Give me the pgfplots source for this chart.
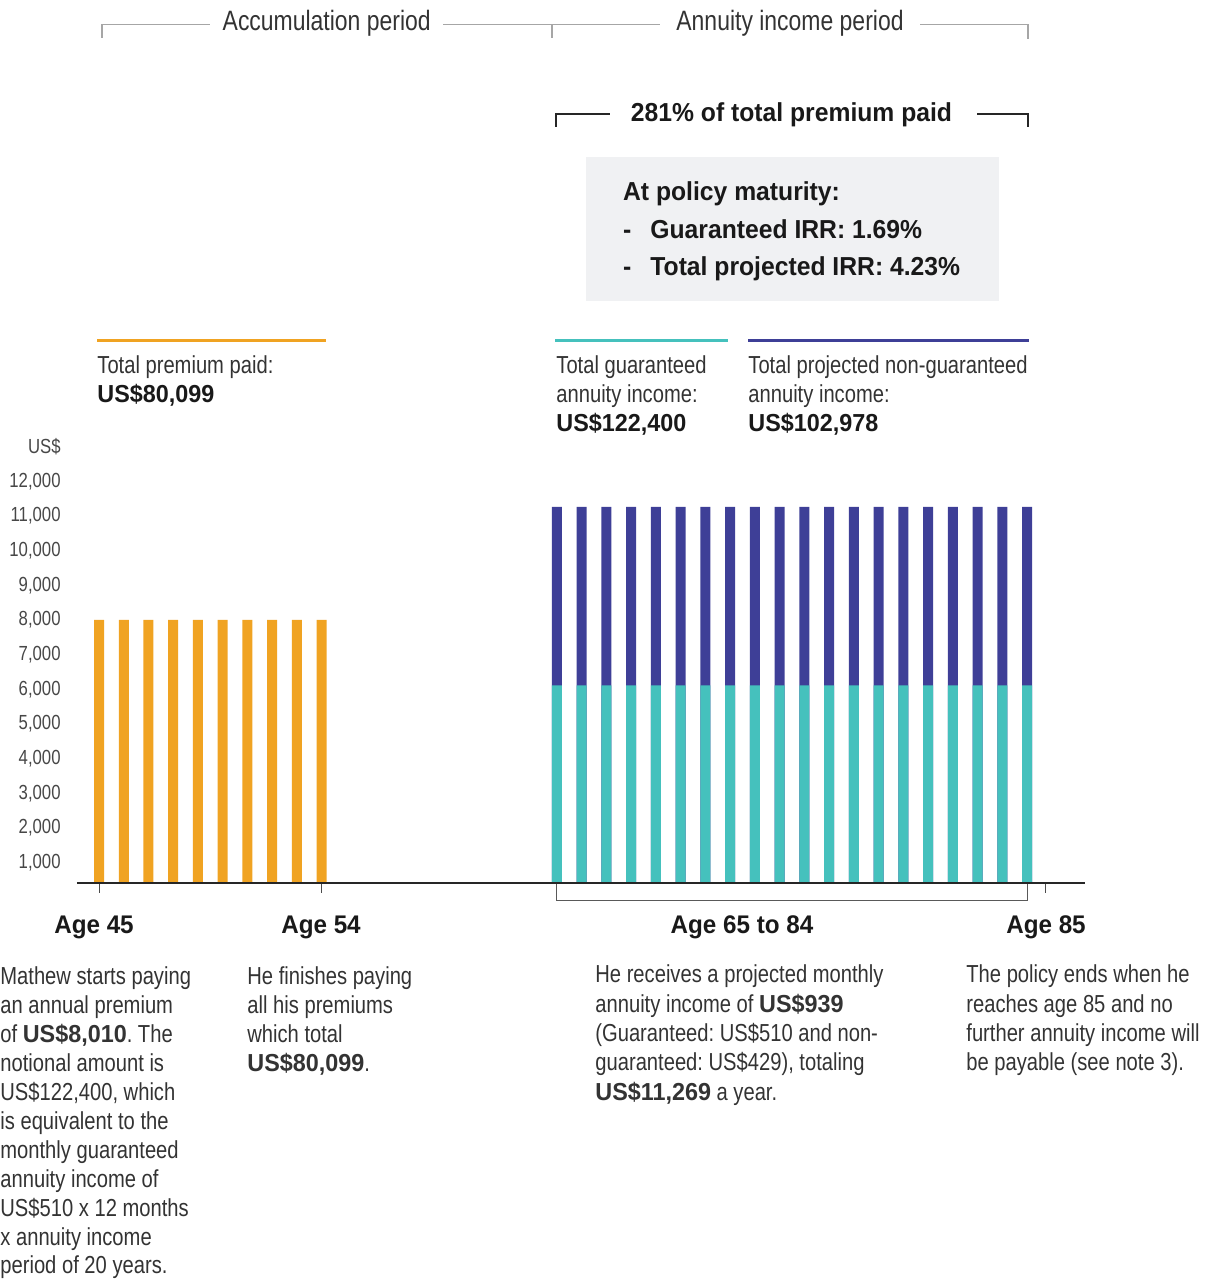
\documentclass[border=0pt]{standalone}
\usepackage{pgfplots}
\pgfplotsset{compat=1.18}
\usepackage{fontspec}
\setmainfont{Liberation Sans}[UprightFeatures={FakeStretch=0.82}, BoldFeatures={FakeStretch=0.95}]
\frenchspacing
\definecolor{cOrange}{HTML}{F0A322}
\definecolor{cTeal}{HTML}{45C1BD}
\definecolor{cBlue}{HTML}{3E3F97}
\definecolor{cText}{HTML}{333333}
\definecolor{cBox}{HTML}{F0F1F3}
\definecolor{cGrayLine}{HTML}{A6A6A6}
\begin{document}
\begin{tikzpicture}
\useasboundingbox (0pt,0pt) rectangle (605.5pt,640.5pt);
\begin{axis}[
  at={(38.5pt,199pt)}, anchor=south west,
  scale only axis, width=504pt, height=218.1pt,
  xmin=44.111, xmax=84.84, ymin=418, ymax=13000,
  axis x line=bottom, axis y line=left,
  x axis line style={line width=1.4pt, draw=black!85, -},
  y axis line style={draw=none},
  xtick={45,54,83.26}, xticklabels={},
  xtick style={draw=black!70, line width=0.5pt},
  tick align=outside, major tick length=5pt,
  scaled y ticks=false,
  ytick={1000,2000,3000,4000,5000,6000,7000,8000,9000,10000,11000,12000,13000},
  yticklabels={{1,000},{2,000},{3,000},{4,000},{5,000},{6,000},{7,000},{8,000},{9,000},{10,000},{11,000},{12,000},{US\$}},
  ytick style={draw=none},
  yticklabel style={font=\fontsize{10.2}{12}\selectfont, text=black!72, anchor=east, inner sep=0pt, xshift=-3pt},
  /pgf/number format/assume math mode=true,
  axis on top=true,
  clip=true,
]
% Premium paid, ages 45-54
\addplot[ybar, bar width=5pt, bar shift=0pt, fill=cOrange, draw=none] coordinates {
  (45,8010) (46,8010) (47,8010) (48,8010) (49,8010) (50,8010) (51,8010) (52,8010) (53,8010) (54,8010)};
% Total annuity income (guaranteed + non-guaranteed), ages 65-84 (plotted at age-1.5)
\addplot[ybar, bar width=5pt, bar shift=0pt, fill=cBlue, draw=none] coordinates {
  (63.5,11269) (64.5,11269) (65.5,11269) (66.5,11269) (67.5,11269) (68.5,11269) (69.5,11269) (70.5,11269) (71.5,11269) (72.5,11269)
  (73.5,11269) (74.5,11269) (75.5,11269) (76.5,11269) (77.5,11269) (78.5,11269) (79.5,11269) (80.5,11269) (81.5,11269) (82.5,11269)};
% Guaranteed annuity income
\addplot[ybar, bar width=5pt, bar shift=0pt, fill=cTeal, draw=none] coordinates {
  (63.5,6120) (64.5,6120) (65.5,6120) (66.5,6120) (67.5,6120) (68.5,6120) (69.5,6120) (70.5,6120) (71.5,6120) (72.5,6120)
  (73.5,6120) (74.5,6120) (75.5,6120) (76.5,6120) (77.5,6120) (78.5,6120) (79.5,6120) (80.5,6120) (81.5,6120) (82.5,6120)};
\end{axis}
\begin{scope}[shift={(0pt,640.5pt)}, x=0.5pt, y=-0.5pt,
  body/.style={font=\fontsize{12.3}{14}\selectfont, text=cText, anchor=base west, inner sep=0pt},
  bbody/.style={font=\fontsize{12.3}{14}\selectfont\bfseries, text=black!90, anchor=base west, inner sep=0pt},
  boxt/.style={font=\fontsize{13}{15}\selectfont\bfseries, text=black!90, anchor=base west, inner sep=0pt},
  agel/.style={font=\fontsize{12.75}{15}\selectfont\bfseries, text=black!90, anchor=base, inner sep=0pt},
  period/.style={font=\fontsize{14}{16}\selectfont, text=black!80, anchor=base, inner sep=0pt}]
% top period brackets
\draw[cGrayLine, line width=0.6pt] (102,38) -- (102,24.7) -- (210,24.7);
\draw[cGrayLine, line width=0.6pt] (443,24.7) -- (552,24.7) -- (660,24.7);
\draw[cGrayLine, line width=0.6pt] (552,24.7) -- (552,38);
\draw[cGrayLine, line width=0.6pt] (920,24.7) -- (1028,24.7) -- (1028,39);
\node[period] at (326.7,31) {Accumulation period};
\node[period] at (790,31) {Annuity income period};
% 281% bracket
\draw[black!85, line width=0.75pt] (556,127) -- (556,114) -- (610,114);
\draw[black!85, line width=0.75pt] (977,114) -- (1028,114) -- (1028,127);
\node[font=\fontsize{13}{15}\selectfont\bfseries, text=black!90, anchor=base, inner sep=0pt] at (791.5,121.7) {281\% of total premium paid};
% grey box
\fill[cBox] (586,156.7) rectangle (999,300.7);
\node[boxt] at (622.7,201) {At policy maturity:};
\node[boxt] at (622.7,238.3) {-};
\node[boxt] at (650,238.3) {Guaranteed IRR: 1.69\%};
\node[boxt] at (622.7,275.7) {-};
\node[boxt] at (650,275.7) {Total projected IRR: 4.23\%};
% legend lines and texts
\draw[cOrange, line width=1.5pt] (97,341) -- (326,341);
\draw[cTeal, line width=1.5pt] (555,341) -- (728,341);
\draw[cBlue, line width=1.5pt] (748,341) -- (1029,341);
\node[body] at (97,374) {Total premium paid:};
\node[bbody] at (97,403) {US\$80,099};
\node[body] at (556,374) {Total guaranteed};
\node[body] at (556,403) {annuity income:};
\node[bbody] at (556,432) {US\$122,400};
\node[body] at (748,374) {Total projected non-guaranteed};
\node[body] at (748,403) {annuity income:};
\node[bbody] at (748,432) {US\$102,978};
% bracket under annuity bars
\draw[black!65, line width=0.5pt] (556,884) -- (556,900.7) -- (1027.7,900.7) -- (1027.7,884);
% age labels
\node[agel] at (94,934) {Age 45};
\node[agel] at (321,934) {Age 54};
\node[agel] at (742,934) {Age 65 to 84};
\node[agel] at (1046,934) {Age 85};
% bottom texts
\node[body] at (0,985) {Mathew starts paying};
\node[body] at (0,1013.9) {an annual premium};
\node[body] at (0,1042.8) {of \textbf{US\$8,010}. The};
\node[body] at (0,1071.7) {notional amount is};
\node[body] at (0,1100.6) {US\$122,400, which};
\node[body] at (0,1129.5) {is equivalent to the};
\node[body] at (0,1158.4) {monthly guaranteed};
\node[body] at (0,1187.3) {annuity income of};
\node[body] at (0,1216.2) {US\$510 x 12 months};
\node[body] at (0,1245.1) {x annuity income};
\node[body] at (0,1274) {period of 20 years.};
\node[body] at (247,985) {He finishes paying};
\node[body] at (247,1013.9) {all his premiums};
\node[body] at (247,1042.8) {which total};
\node[body] at (247,1071.7) {\textbf{US\$80,099}.};
\node[body] at (595,983) {He receives a projected monthly};
\node[body] at (595,1012.3) {annuity income of \textbf{US\$939}};
\node[body] at (595,1041.6) {(Guaranteed: US\$510 and non-};
\node[body] at (595,1070.9) {guaranteed: US\$429), totaling};
\node[body] at (595,1100.2) {\textbf{US\$11,269} a year.};
\node[body] at (966,983) {The policy ends when he};
\node[body] at (966,1012.3) {reaches age 85 and no};
\node[body] at (966,1041.6) {further annuity income will};
\node[body] at (966,1070.9) {be payable (see note 3).};
\end{scope}
\end{tikzpicture}
\end{document}
